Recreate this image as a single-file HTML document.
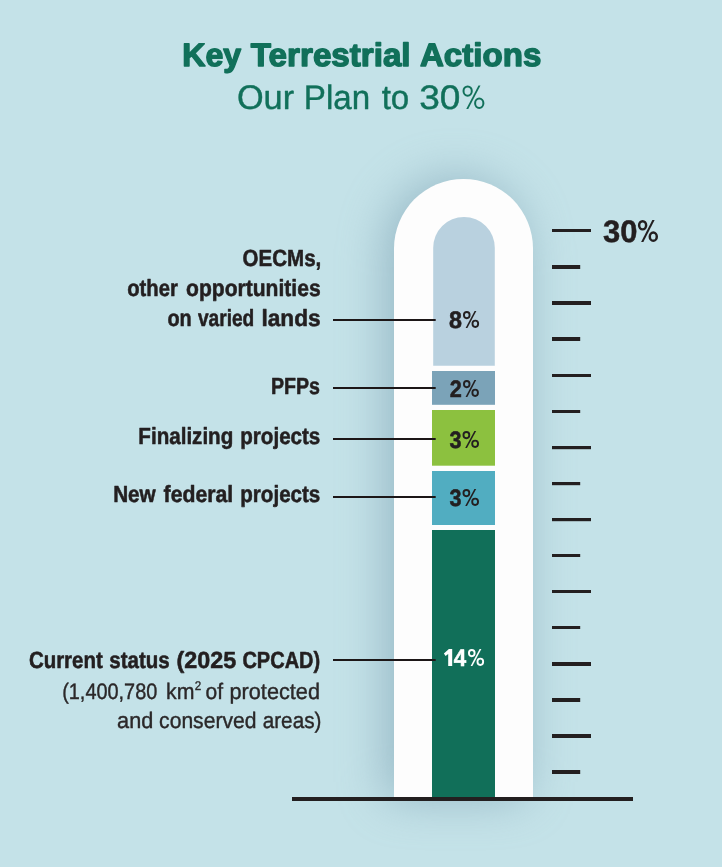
<!DOCTYPE html>
<html>
<head>
<meta charset="utf-8">
<title>Key Terrestrial Actions</title>
<style>
html,body{margin:0;padding:0;background:#c4e2e8;}
body{width:722px;height:867px;overflow:hidden;font-family:"Liberation Sans",sans-serif;}
svg{display:block;will-change:transform;}
text{font-family:"Liberation Sans",sans-serif;text-rendering:geometricPrecision;stroke-linejoin:round;}
</style>
</head>
<body>
<svg width="722" height="867" viewBox="0 0 722 867">
  <defs>
    <filter id="glow" x="-100%" y="-20%" width="300%" height="140%" color-interpolation-filters="sRGB">
      <feGaussianBlur stdDeviation="24"/>
    </filter>
  </defs>
  <rect x="0" y="0" width="722" height="867" fill="#c4e2e8"/>

  <!-- Tube glow -->
  <path d="M394 799 V248.5 A69.5 69.5 0 0 1 533 248.5 V799 Z" fill="#779bae" opacity="0.6" filter="url(#glow)" transform="translate(-8,-1)"/>
  <!-- Tube -->
  <path d="M394 797.5 V248.5 A69.5 69.5 0 0 1 533 248.5 V797.5 Z" fill="#fdfdfd"/>

  <!-- Segments -->
  <path d="M433.2 365.8 V247.8 A30.8 30.8 0 0 1 494.8 247.8 V365.8 Z" fill="#b9d1df"/>
  <rect x="432" y="371" width="63" height="33.8" fill="#7ba3b8"/>
  <rect x="432" y="410" width="63" height="55.7" fill="#8cc13f"/>
  <rect x="432" y="471" width="63" height="54" fill="#51adc1"/>
  <rect x="432" y="530" width="63" height="267.5" fill="#116f59"/>

  <!-- Baseline -->
  <rect x="292" y="797" width="341" height="4" fill="#231f20"/>

  <!-- Ticks -->
  <g fill="#231f20">
    <rect x="552" y="229" width="39" height="3"/>
    <rect x="552" y="265" width="28.2" height="4"/>
    <rect x="552" y="301" width="39" height="4"/>
    <rect x="552" y="337" width="28.2" height="4"/>
    <rect x="552" y="374" width="39" height="3"/>
    <rect x="552" y="410" width="28.2" height="3"/>
    <rect x="552" y="446" width="39" height="3.2"/>
    <rect x="552" y="482" width="28.2" height="3.2"/>
    <rect x="552" y="518" width="39" height="3.2"/>
    <rect x="552" y="554" width="28.2" height="3"/>
    <rect x="552" y="590" width="39" height="3"/>
    <rect x="552" y="626" width="28.2" height="3"/>
    <rect x="552" y="662" width="39" height="4"/>
    <rect x="552" y="698" width="28.2" height="4"/>
    <rect x="552" y="734" width="39" height="4"/>
    <rect x="552" y="770" width="28.2" height="4"/>
  </g>

  <!-- Leader lines -->
  <g fill="#1c1617">
    <rect x="333" y="319" width="102.7" height="2"/>
    <rect x="333" y="387" width="102.7" height="2"/>
    <rect x="333" y="438" width="102.7" height="2"/>
    <rect x="333" y="496" width="102.7" height="2"/>
    <rect x="333" y="659" width="102.7" height="2"/>
  </g>

  <!-- Text -->
  <text x="182.32" y="66.1" font-size="32.4" font-weight="700" fill="#11705a" stroke="#11705a" stroke-width="1.4" textLength="58.85" lengthAdjust="spacingAndGlyphs">Key</text>
  <text x="250.84" y="66.1" font-size="32.4" font-weight="700" fill="#11705a" stroke="#11705a" stroke-width="1.4" textLength="159.76" lengthAdjust="spacingAndGlyphs">Terrestrial</text>
  <text x="419.94" y="66.1" font-size="32.4" font-weight="700" fill="#11705a" stroke="#11705a" stroke-width="1.4" textLength="121.36" lengthAdjust="spacingAndGlyphs">Actions</text>
  <text x="236.93" y="108.6" font-size="34.0" font-weight="400" fill="#11705a" stroke="#11705a" stroke-width="0.4" textLength="57.19" lengthAdjust="spacingAndGlyphs">Our</text>
  <text x="303.79" y="108.6" font-size="34.0" font-weight="400" fill="#11705a" stroke="#11705a" stroke-width="0.4" textLength="66.31" lengthAdjust="spacingAndGlyphs">Plan</text>
  <text x="381.67" y="108.6" font-size="34.0" font-weight="400" fill="#11705a" stroke="#11705a" stroke-width="0.4" textLength="27.60" lengthAdjust="spacingAndGlyphs">to</text>
  <text x="419.24" y="108.6" font-size="34.0" font-weight="400" fill="#11705a" stroke="#11705a" stroke-width="0.4" textLength="41.22" lengthAdjust="spacingAndGlyphs">30</text>
  <text x="602.96" y="242" font-size="31" font-weight="700" fill="#231f20" stroke="#231f20" stroke-width="0.5" textLength="34.44" lengthAdjust="spacingAndGlyphs">30</text>
  <text x="448.91" y="328" font-size="23.8" font-weight="700" fill="#231f20" stroke="#231f20" stroke-width="0.55" textLength="12.98" lengthAdjust="spacingAndGlyphs">8</text>
  <text x="449.69" y="397" font-size="23.8" font-weight="700" fill="#231f20" stroke="#231f20" stroke-width="0.55" textLength="12.07" lengthAdjust="spacingAndGlyphs">2</text>
  <text x="449.45" y="448" font-size="23.8" font-weight="700" fill="#231f20" stroke="#231f20" stroke-width="0.55" textLength="12.02" lengthAdjust="spacingAndGlyphs">3</text>
  <text x="449.45" y="506" font-size="23.8" font-weight="700" fill="#231f20" stroke="#231f20" stroke-width="0.55" textLength="12.02" lengthAdjust="spacingAndGlyphs">3</text>
  <text x="453.77" y="666" font-size="23.8" font-weight="700" fill="#ffffff" stroke="#ffffff" stroke-width="0.55" textLength="12.41" lengthAdjust="spacingAndGlyphs">4</text>
  <text x="242.59" y="265.7" font-size="23.4" font-weight="700" fill="#231f20" stroke="#231f20" stroke-width="0.55" textLength="78.69" lengthAdjust="spacingAndGlyphs">OECMs,</text>
  <text x="127.25" y="296" font-size="23.4" font-weight="700" fill="#231f20" stroke="#231f20" stroke-width="0.55" textLength="50.59" lengthAdjust="spacingAndGlyphs">other</text>
  <text x="186.12" y="296" font-size="23.4" font-weight="700" fill="#231f20" stroke="#231f20" stroke-width="0.55" textLength="134.50" lengthAdjust="spacingAndGlyphs">opportunities</text>
  <text x="167.45" y="326" font-size="23.4" font-weight="700" fill="#231f20" stroke="#231f20" stroke-width="0.55" textLength="24.27" lengthAdjust="spacingAndGlyphs">on</text>
  <text x="197.99" y="326" font-size="23.4" font-weight="700" fill="#231f20" stroke="#231f20" stroke-width="0.55" textLength="56.25" lengthAdjust="spacingAndGlyphs">varied</text>
  <text x="261.45" y="326" font-size="23.4" font-weight="700" fill="#231f20" stroke="#231f20" stroke-width="0.55" textLength="59.25" lengthAdjust="spacingAndGlyphs">lands</text>
  <text x="270.97" y="393.6" font-size="23.4" font-weight="700" fill="#231f20" stroke="#231f20" stroke-width="0.55" textLength="49.01" lengthAdjust="spacingAndGlyphs">PFPs</text>
  <text x="138.37" y="443.5" font-size="23.4" font-weight="700" fill="#231f20" stroke="#231f20" stroke-width="0.55" textLength="94.91" lengthAdjust="spacingAndGlyphs">Finalizing</text>
  <text x="240.27" y="443.5" font-size="23.4" font-weight="700" fill="#231f20" stroke="#231f20" stroke-width="0.55" textLength="80.05" lengthAdjust="spacingAndGlyphs">projects</text>
  <text x="113.17" y="502.3" font-size="23.4" font-weight="700" fill="#231f20" stroke="#231f20" stroke-width="0.55" textLength="42.55" lengthAdjust="spacingAndGlyphs">New</text>
  <text x="163.57" y="502.3" font-size="23.4" font-weight="700" fill="#231f20" stroke="#231f20" stroke-width="0.55" textLength="69.63" lengthAdjust="spacingAndGlyphs">federal</text>
  <text x="240.27" y="502.3" font-size="23.4" font-weight="700" fill="#231f20" stroke="#231f20" stroke-width="0.55" textLength="80.05" lengthAdjust="spacingAndGlyphs">projects</text>
  <text x="28.89" y="667.6" font-size="23.4" font-weight="700" fill="#231f20" stroke="#231f20" stroke-width="0.55" textLength="73.89" lengthAdjust="spacingAndGlyphs">Current</text>
  <text x="109.28" y="667.6" font-size="23.4" font-weight="700" fill="#231f20" stroke="#231f20" stroke-width="0.55" textLength="60.37" lengthAdjust="spacingAndGlyphs">status</text>
  <text x="176.47" y="667.6" font-size="23.4" font-weight="700" fill="#231f20" stroke="#231f20" stroke-width="0.55" textLength="59.64" lengthAdjust="spacingAndGlyphs">(2025</text>
  <text x="242.41" y="667.6" font-size="23.4" font-weight="700" fill="#231f20" stroke="#231f20" stroke-width="0.55" textLength="77.80" lengthAdjust="spacingAndGlyphs">CPCAD)</text>
  <text x="62.19" y="698.6" font-size="22.4" font-weight="400" fill="#2b2829" stroke="#2b2829" stroke-width="0.4" textLength="95.09" lengthAdjust="spacingAndGlyphs">(1,400,780</text>
  <text x="166.04" y="698.6" font-size="22.4" font-weight="400" fill="#2b2829" stroke="#2b2829" stroke-width="0.4" textLength="28.40" lengthAdjust="spacingAndGlyphs">km</text>
  <text x="194.65" y="689.5" font-size="12.7" font-weight="400" fill="#2b2829" stroke="#2b2829" stroke-width="0.35" textLength="6.47" lengthAdjust="spacingAndGlyphs">2</text>
  <text x="205.60" y="698.6" font-size="22.4" font-weight="400" fill="#2b2829" stroke="#2b2829" stroke-width="0.4" textLength="17.53" lengthAdjust="spacingAndGlyphs">of</text>
  <text x="229.54" y="698.6" font-size="22.4" font-weight="400" fill="#2b2829" stroke="#2b2829" stroke-width="0.4" textLength="90.41" lengthAdjust="spacingAndGlyphs">protected</text>
  <text x="117.08" y="727.9" font-size="22.4" font-weight="400" fill="#2b2829" stroke="#2b2829" stroke-width="0.4" textLength="36.19" lengthAdjust="spacingAndGlyphs">and</text>
  <text x="159.09" y="727.9" font-size="22.4" font-weight="400" fill="#2b2829" stroke="#2b2829" stroke-width="0.4" textLength="97.41" lengthAdjust="spacingAndGlyphs">conserved</text>
  <text x="262.71" y="727.9" font-size="22.4" font-weight="400" fill="#2b2829" stroke="#2b2829" stroke-width="0.4" textLength="58.71" lengthAdjust="spacingAndGlyphs">areas)</text>
  <!-- Percent signs -->
  <g fill="none" stroke="#11705a" stroke-width="2.01"><ellipse cx="467.65" cy="91.12" rx="4.14" ry="4.72"/><ellipse cx="479.25" cy="103.28" rx="4.14" ry="4.72"/><polygon points="478.48,85.40 480.47,85.40 468.23,109.00 466.23,109.00" fill="#11705a" stroke="none"/></g>
  <g fill="none" stroke="#231f20" stroke-width="2.48"><ellipse cx="642.62" cy="225.26" rx="3.49" ry="4.12"/><ellipse cx="653.28" cy="236.64" rx="3.49" ry="4.12"/><polygon points="652.34,219.90 654.62,219.90 643.38,242.00 641.10,242.00" fill="#231f20" stroke="none"/></g>
  <g fill="none" stroke="#231f20" stroke-width="1.89"><ellipse cx="466.78" cy="315.10" rx="2.84" ry="3.15"/><ellipse cx="475.32" cy="323.80" rx="2.84" ry="3.15"/><polygon points="474.60,311.00 476.36,311.00 467.36,327.90 465.60,327.90" fill="#231f20" stroke="none"/></g>
  <g fill="none" stroke="#231f20" stroke-width="1.89"><ellipse cx="466.74" cy="384.10" rx="2.79" ry="3.15"/><ellipse cx="475.16" cy="392.80" rx="2.79" ry="3.15"/><polygon points="474.44,380.00 476.20,380.00 467.31,396.90 465.56,396.90" fill="#231f20" stroke="none"/></g>
  <g fill="none" stroke="#231f20" stroke-width="1.89"><ellipse cx="466.38" cy="435.10" rx="2.93" ry="3.15"/><ellipse cx="475.12" cy="443.80" rx="2.93" ry="3.15"/><polygon points="474.40,431.00 476.17,431.00 466.95,447.90 465.18,447.90" fill="#231f20" stroke="none"/></g>
  <g fill="none" stroke="#231f20" stroke-width="1.89"><ellipse cx="466.38" cy="493.10" rx="2.93" ry="3.15"/><ellipse cx="475.12" cy="501.80" rx="2.93" ry="3.15"/><polygon points="474.40,489.00 476.17,489.00 466.95,505.90 465.18,505.90" fill="#231f20" stroke="none"/></g>
  <g fill="none" stroke="#ffffff" stroke-width="1.89"><ellipse cx="471.78" cy="653.10" rx="2.84" ry="3.15"/><ellipse cx="480.32" cy="661.80" rx="2.84" ry="3.15"/><polygon points="479.60,649.00 481.36,649.00 472.36,665.90 470.60,665.90" fill="#ffffff" stroke="none"/></g>
  <path d="M448.9 649 H452.2 V666 H448.2 V654 L445.6 656.1 L443.9 653.6 Z" fill="#ffffff"/>
</svg>
</body>
</html>
